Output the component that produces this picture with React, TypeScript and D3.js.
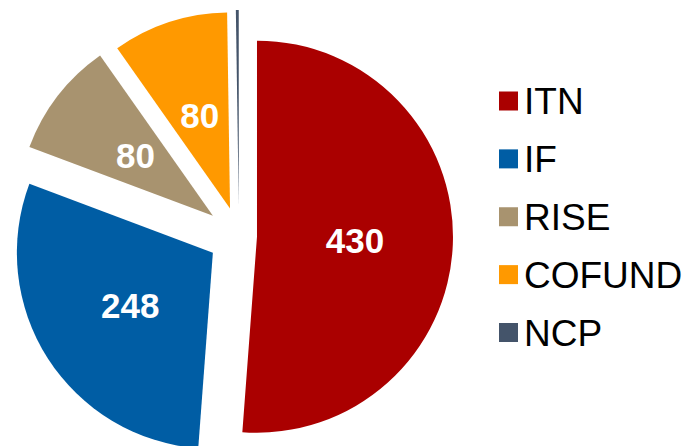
import React from "react";
import * as d3 from "d3";

const categories = ["ITN", "IF", "RISE", "COFUND", "NCP"];
const values = [430, 248, 80, 80, 2];

const colors = ["#AA0000", "#005DA4", "#A8936F", "#FF9900", "#44546A"];
const explode = [18, 31, 33, 29, 30];

const W = 687;
const H = 446;
const CX = 239;
const CY = 236;
const R = 196;
const FONT = "'Liberation Sans', Arial, sans-serif";

export default function App() {
  const pie = d3.pie<number>().sort(null).value((d) => d);
  const arcs = pie(values);
  const arc = d3.arc<d3.PieArcDatum<number>>().innerRadius(0).outerRadius(R);

  const legendY = d3
    .scalePoint<string>()
    .domain(categories)
    .range([101, 332.5]);

  return (
    <svg
      width={W}
      height={H}
      style={{ position: "absolute", left: 0, top: 0, background: "#fff" }}
    >
      <g transform={`translate(${CX},${CY})`}>
        {arcs.map((a, i) => {
          const mid = (a.startAngle + a.endAngle) / 2;
          const dx = Math.sin(mid) * explode[i];
          const dy = -Math.cos(mid) * explode[i];
          const [lx, ly] = arc.centroid(a);
          return (
            <g key={categories[i]} transform={`translate(${dx},${dy})`}>
              <path d={arc(a) || ""} fill={colors[i]} />
              {values[i] >= 10 && (
                <text
                  x={lx}
                  y={ly}
                  dy="0.36em"
                  textAnchor="middle"
                  fill="#fff"
                  fontFamily={FONT}
                  fontWeight="bold"
                  fontSize={35}
                >
                  {values[i]}
                </text>
              )}
            </g>
          );
        })}
      </g>
      <g>
        {categories.map((c, i) => {
          const y = legendY(c) as number;
          return (
            <g key={c}>
              <rect x={499} y={y - 9.5} width={19} height={19} fill={colors[i]} />
              <text
                x={524}
                y={y}
                dy="0.36em"
                fontFamily={FONT}
                fontSize={37}
                fill="#000"
              >
                {c}
              </text>
            </g>
          );
        })}
      </g>
    </svg>
  );
}
